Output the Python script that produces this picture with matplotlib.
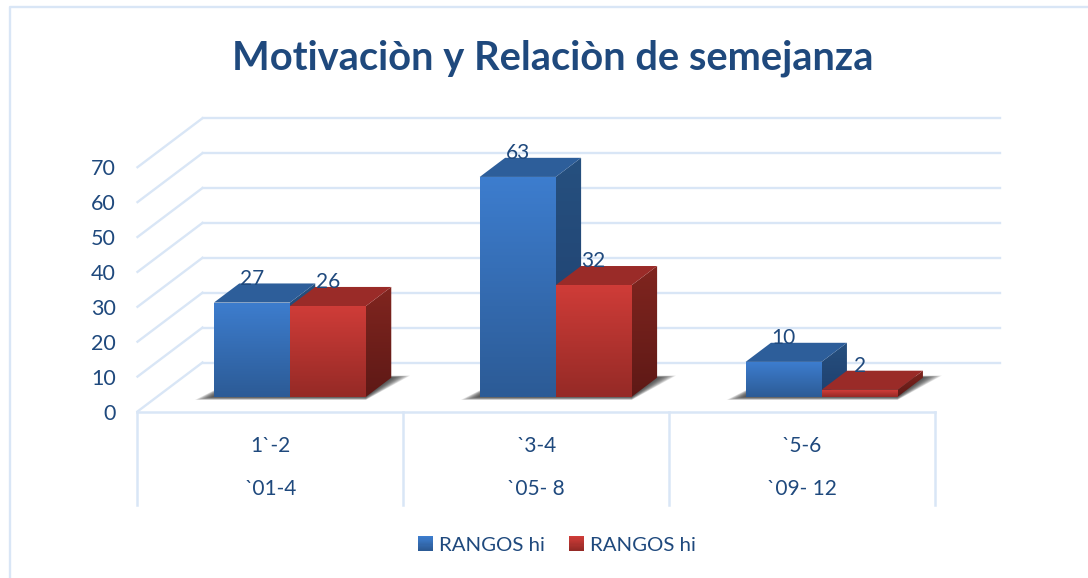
import numpy as np
import matplotlib
matplotlib.use("Agg")
import matplotlib.pyplot as plt
from matplotlib.colors import to_rgb
from matplotlib.lines import Line2D
from matplotlib.patches import Polygon, Rectangle, Patch
from matplotlib.legend_handler import HandlerBase

# ---- data ----
title = "Motivaciòn y Relaciòn de semejanza"
rangos_inner = ["1`-2", "`3-4", "`5-6"]
rangos_outer = ["`01-4", "`05- 8", "`09- 12"]
series_a = [27, 63, 10]
series_b = [26, 32, 2]
series_names = ["RANGOS hi", "RANGOS hi"]
y_ticks = [0, 10, 20, 30, 40, 50, 60, 70]

# ---- style ----
W, H = 1088, 578
DPI = 100
TXT = "#1F497D"
GRID = "#D9E6F6"
FONT = "Lato"
plt.rcParams["font.family"] = [FONT, "DejaVu Sans"]

fig = plt.figure(figsize=(W / DPI, H / DPI), dpi=DPI, facecolor="white")
ax_l, ax_r, ax_b, ax_t = 137.5, 935.0, 411.5, 167.2
ax = fig.add_axes([ax_l / W, 1 - ax_b / H, (ax_r - ax_l) / W, (ax_b - ax_t) / H])
ax.set_facecolor("none")
for s in ax.spines.values():
    s.set_visible(False)

XLIM = (-0.5, 2.5)
YLIM = (0, 70)
px_x = (ax_r - ax_l) / (XLIM[1] - XLIM[0])
px_y = (ax_b - ax_t) / (YLIM[1] - YLIM[0])
KX = 65 / px_x      # oblique projection of the depth axis
KY = 49 / px_y
Z0, Z1 = 0.30, 0.69  # depth range of the bars
BW = 76 / px_x


def P(x, y, z=0.0):
    return (x + KX * z, y + KY * z)


def grad_poly(pts, top, bottom, zorder):
    pts = np.array(pts)
    ramp = np.linspace(0, 1, 64)[:, None]
    img = (1 - ramp) * np.array(to_rgb(top)) + ramp * np.array(to_rgb(bottom))
    im = ax.imshow(img[:, None, :], aspect="auto", interpolation="bilinear",
                   extent=(pts[:, 0].min(), pts[:, 0].max(), pts[:, 1].min(), pts[:, 1].max()),
                   zorder=zorder)
    im.set_clip_box(fig.bbox)
    im.set_clip_path(Polygon(pts, closed=True, transform=ax.transData))


def poly(pts, color, zorder, alpha=None):
    ax.add_patch(Polygon(pts, closed=True, facecolor=color, edgecolor="none",
                         alpha=alpha, zorder=zorder, clip_on=False))


def bar3d(x0, x1, v, pal, z):
    side = [P(x1, 0, Z0), P(x1, 0, Z1), P(x1, v, Z1), P(x1, v, Z0)]
    grad_poly(side, pal["side_t"], pal["side_b"], z)
    poly([P(x0, v, Z0), P(x1, v, Z0), P(x1, v, Z1), P(x0, v, Z1)], pal["top"], z + 0.1)
    grad_poly([P(x0, 0, Z0), P(x1, 0, Z0), P(x1, v, Z0), P(x0, v, Z0)],
              pal["front_t"], pal["front_b"], z + 0.2)


BLUE = dict(front_t="#3D7DCE", front_b="#2C5B96", top="#2D5E9A", side_t="#26507F", side_b="#1F3F6E")
RED = dict(front_t="#CF3C38", front_b="#952A26", top="#9A2B28", side_t="#80251F", side_b="#5E1916")

# back wall and side wall gridlines
for t in y_ticks:
    ax.plot(*zip(P(XLIM[0], t, 1), P(XLIM[1], t, 1)), color=GRID, lw=1.7, zorder=1, clip_on=False)
    ax.plot(*zip(P(XLIM[0], t, 0), P(XLIM[0], t, 1)), color=GRID, lw=1.7, zorder=1, clip_on=False)

# category frame
ax.plot(XLIM, [0, 0], color=GRID, lw=1.8, zorder=1, clip_on=False)
frame_drop = (505 - ax_b) / px_y
for x in np.arange(XLIM[0], XLIM[1] + 0.01, 1):
    ax.plot([x, x], [0, -frame_drop], color=GRID, lw=1.8, zorder=1, clip_on=False)

# bars
for i, (a, b) in enumerate(zip(series_a, series_b)):
    z = 3 + i
    # soft floor shadow
    n = 16
    for k in range(n):
        f = 1 - k / n
        e = f * 19 / px_x
        poly([P(i - BW - e, -0.9 * f, Z0), P(i + BW, -0.9 * f, Z0),
              P(i + BW + e, 0.6 * f, Z1), P(i - BW + e * 0.2, 0.6 * f, Z1)], "#2A2A2A", z - 0.5, alpha=0.085)
    bar3d(i - BW, i, a, BLUE, z)
    bar3d(i, i + BW, b, RED, z + 0.3)
    for x, v in ((i - BW / 2, a), (i + BW / 2, b)):
        px, py = P(x, v, Z0)
        ax.annotate(str(v), xy=(px, py), xytext=(0, 24 * 72 / DPI), textcoords="offset points",
                    ha="center", va="center", fontsize=15, color=TXT, zorder=20,
                    annotation_clip=False)

# axes
ax.set_xlim(*XLIM)
ax.set_ylim(*YLIM)
ax.set_yticks(y_ticks)
ax.set_yticklabels([str(t) for t in y_ticks])
ax.tick_params(axis="y", length=0, pad=15.5, labelsize=15.5, labelcolor=TXT)
ax.set_xticks(range(len(rangos_inner)))
ax.set_xticklabels(rangos_inner)
ax.tick_params(axis="x", length=0, pad=18, labelsize=15, labelcolor=TXT)
for i, lab in enumerate(rangos_outer):
    ax.annotate(lab, xy=(i, 0), xytext=(0, -(489 - ax_b) * 72 / DPI), textcoords="offset points",
                ha="center", va="center", fontsize=15, color=TXT, annotation_clip=False)


# legend with gradient swatches
class GradHandler(HandlerBase):
    def create_artists(self, legend, orig, xd, yd, w, h, fs, trans):
        top, bottom = orig.grad
        out = []
        n = 12
        s = min(w, h)
        for k in range(n):
            f = k / (n - 1)
            c = (1 - f) * np.array(to_rgb(top)) + f * np.array(to_rgb(bottom))
            out.append(Rectangle((-xd, -yd + h - s * (k + 1) / n), w, s / n + 0.2, facecolor=c,
                                 edgecolor="none", transform=trans))
        return out


h1 = Patch(color=BLUE["front_t"], label=series_names[0]); h1.grad = ("#3D7DCE", "#2C5B96")
h2 = Patch(color=RED["front_t"], label=series_names[1]); h2.grad = ("#CF3C38", "#952A26")
fig.legend(handles=[h1, h2], handler_map={Patch: GradHandler()}, ncol=2, frameon=False,
           loc="center", bbox_to_anchor=(557 / W, 1 - 545 / H), fontsize=14.7, labelcolor=TXT,
           handlelength=0.7, handleheight=0.7, handletextpad=0.3, columnspacing=1.2)

# title and chart border
fig.text(552.5 / W, 1 - 58 / H, title, ha="center", va="center", fontsize=28.7,
         fontweight="bold", color=TXT)
fig.add_artist(Line2D([9.5 / W, 9.5 / W, 1], [0, 1 - 7 / H, 1 - 7 / H], color=GRID, lw=1.7))

fig.savefig("out.png", dpi=DPI, facecolor="white")
